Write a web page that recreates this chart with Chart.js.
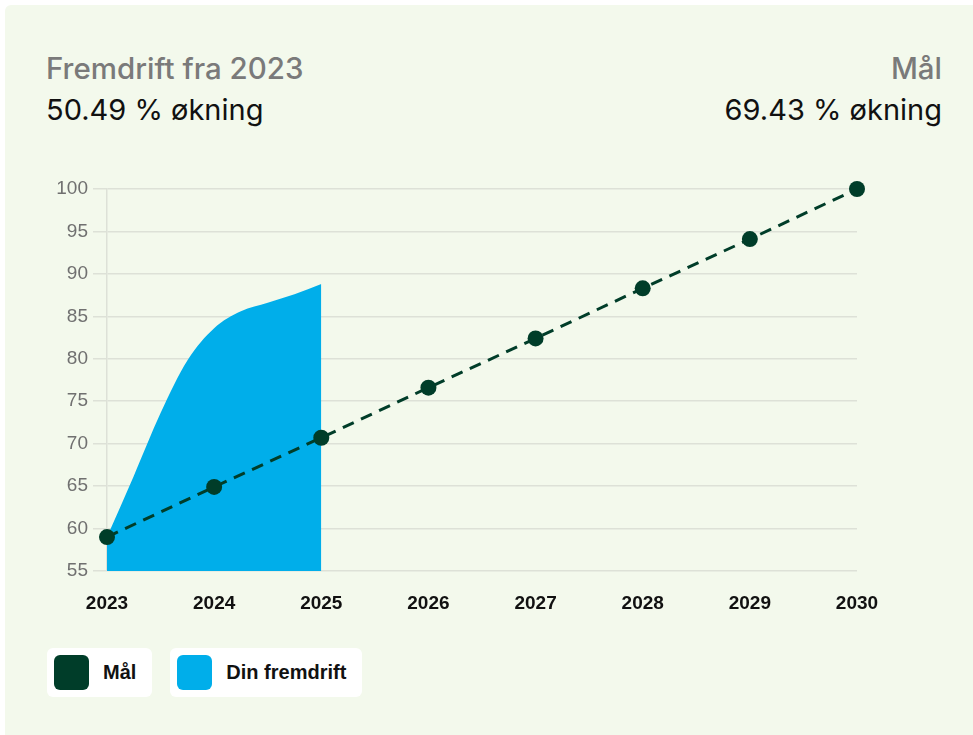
<!DOCTYPE html>
<html lang="no">
<head>
<meta charset="utf-8">
<title>Fremdrift fra 2023</title>
<script src="https://cdn.jsdelivr.net/npm/chart.js@4.4.1/dist/chart.umd.min.js"></script>
<style>
  html, body { margin: 0; padding: 0; background: #ffffff; }
  body { width: 973px; height: 735px; position: relative; overflow: hidden; font-family: "Inter", "Liberation Sans", Arial, sans-serif; }
  .card { position: absolute; left: 5px; top: 5px; width: 975px; height: 740px; background: #f3f9ec; border-radius: 6px; }
  .head { position: absolute; top: 54px; line-height: 1; }
  .head .title { font-size: 29.5px; color: #7a7a7a; font-weight: 500; }
  .head .value { font-size: 29px; color: #111111; margin-top: 11px; }
  .head.left { left: 46px; }
  .head.right { right: 31px; text-align: right; }
  #chart { position: absolute; left: 0; top: 0; }
  .legend { position: absolute; top: 648px; left: 47px; display: flex; gap: 18px; }
  .legend .item { background: #ffffff; border-radius: 6px; height: 49px; display: flex; align-items: center; padding: 0 16px 0 7px; font-family: "Liberation Sans", Arial, sans-serif; font-weight: bold; font-size: 20px; color: #111111; }
  .legend .swatch { width: 35px; height: 35px; border-radius: 6px; margin-right: 14px; }
</style>
</head>
<body>
<div class="card"></div>
<div class="head left">
  <div class="title">Fremdrift fra 2023</div>
  <div class="value">50.49 % økning</div>
</div>
<div class="head right">
  <div class="title">Mål</div>
  <div class="value">69.43 % økning</div>
</div>
<canvas id="chart" width="973" height="735"></canvas>
<div class="legend" id="legend"></div>

<script>
// År på x-aksen
const years = [2023, 2024, 2025, 2026, 2027, 2028, 2029, 2030];
// Mål-linjen
const goalValues = [59, 64.9, 70.7, 76.6, 82.4, 88.3, 94.1, 100];
// Din fremdrift (kvartalsvis)
const progressYears = [2023, 2023.25, 2023.5, 2023.75, 2024, 2024.25, 2024.5, 2024.75, 2025];
const progressValues = [59, 66.2, 73.6, 79.8, 83.6, 85.6, 86.6, 87.6, 88.8];
// y-akse
const yMin = 55;
const yMax = 100;
const yStep = 5;

const legendItems = [
  { label: 'Mål', color: '#003d29' },
  { label: 'Din fremdrift', color: '#00aeea' }
];

const GREEN = '#003d29';
const BLUE = '#00aeea';
const GRID = '#dde1d7';

// legende som HTML
const legendEl = document.getElementById('legend');
legendItems.forEach((it) => {
  const item = document.createElement('div');
  item.className = 'item';
  const sw = document.createElement('span');
  sw.className = 'swatch';
  sw.style.background = it.color;
  item.appendChild(sw);
  item.appendChild(document.createTextNode(it.label));
  legendEl.appendChild(item);
});

const ctx = document.getElementById('chart').getContext('2d');
new Chart(ctx, {
  type: 'line',
  data: {
    datasets: [
      {
        label: 'Mål',
        data: years.map((y, i) => ({ x: y, y: goalValues[i] })),
        borderColor: GREEN,
        backgroundColor: GREEN,
        borderWidth: 3,
        borderDash: [12, 8],
        pointRadius: 8,
        pointBackgroundColor: GREEN,
        pointBorderWidth: 0,
        fill: false,
        tension: 0,
        clip: false,
        order: 1
      },
      {
        label: 'Din fremdrift',
        data: progressYears.map((y, i) => ({ x: y, y: progressValues[i] })),
        borderColor: BLUE,
        backgroundColor: BLUE,
        borderWidth: 0,
        pointRadius: 0,
        fill: 'start',
        cubicInterpolationMode: 'monotone',
        order: 2
      }
    ]
  },
  options: {
    responsive: false,
    animation: false,
    layout: { padding: { left: 47, right: 116, top: 189, bottom: 104 } },
    plugins: {
      legend: { display: false },
      tooltip: { enabled: false }
    },
    scales: {
      x: {
        type: 'linear',
        min: years[0],
        max: years[years.length - 1],
        afterFit: (s) => { s.height = 60; },
        grid: { display: false },
        border: { display: false },
        ticks: {
          stepSize: 1,
          padding: 13,
          maxRotation: 0,
          color: '#111111',
          font: { family: '"Liberation Sans", Arial, sans-serif', size: 19, weight: 'bold' },
          callback: (v) => String(v)
        }
      },
      y: {
        min: yMin,
        max: yMax,
        afterFit: (s) => { s.width = 60; },
        grid: { color: GRID, lineWidth: 1.5, tickLength: 14 },
        border: { display: true, color: GRID, width: 1.5 },
        ticks: {
          stepSize: yStep,
          padding: 5,
          color: '#707070',
          font: { family: '"Liberation Sans", Arial, sans-serif', size: 19 }
        }
      }
    }
  }
});
</script>
</body>
</html>
